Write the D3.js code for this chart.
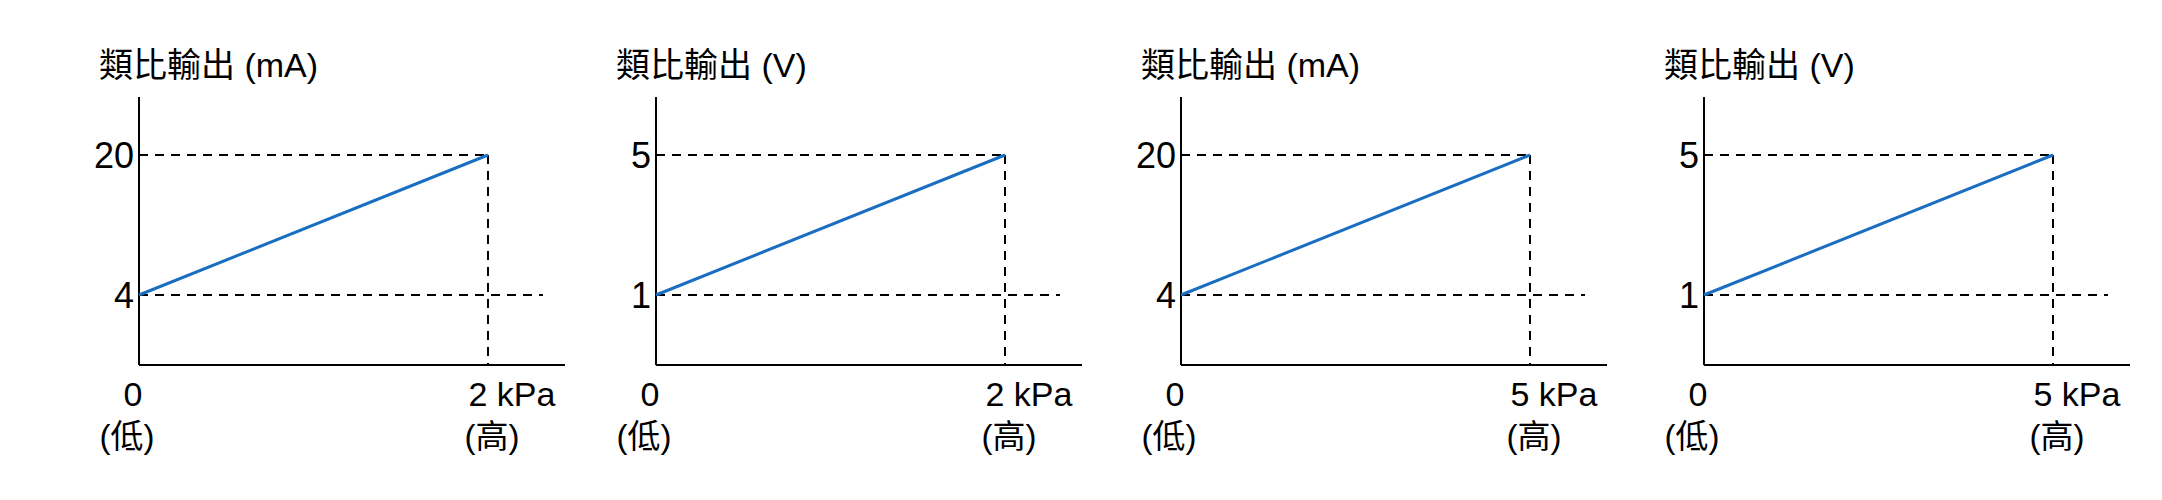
<!DOCTYPE html><html><head><meta charset="utf-8"><script src="https://d3js.org/d3.v7.min.js"></script>
<style>body{margin:0;background:#fff}</style></head><body><svg id="c" width="2162" height="500"></svg>
<script>
const titles=["類比輸出 (mA)","類比輸出 (V)","類比輸出 (mA)","類比輸出 (V)"];
const yLow=[4,1,4,1];
const yHigh=[20,5,20,5];
const xHighLabels=["2 kPa","2 kPa","5 kPa","5 kPa"];
const xLowLabel="0", lowWord="(低)", highWord="(高)";
const axisX=[139,656,1181,1704];
const svg=d3.select("#c");
const font="Arial, 'Liberation Sans', 'Noto Sans CJK TC', sans-serif";
titles.forEach((t,i)=>{
  const g=svg.append("g").attr("transform",`translate(${axisX[i]},0)`);
  const x=d3.scaleLinear().domain([0,1]).range([0,349]);
  const y=d3.scaleLinear().domain([yLow[i],yHigh[i]]).range([295,155]);
  const blue="#1a6ec2";
  g.append("text").attr("x",-40).attr("y",77).attr("font-family",font).attr("font-size",34).text(t);
  g.append("line").attr("x1",0).attr("x2",0).attr("y1",97).attr("y2",365).attr("stroke","#000").attr("stroke-width",2);
  g.append("line").attr("x1",0).attr("x2",426).attr("y1",365).attr("y2",365).attr("stroke","#000").attr("stroke-width",2);
  const dash={"stroke":"#000","stroke-width":2,"stroke-dasharray":"9,7"};
  const dl=(x1,y1,x2,y2)=>{const l=g.append("line").attr("x1",x1).attr("y1",y1).attr("x2",x2).attr("y2",y2);Object.entries(dash).forEach(([k,v])=>l.attr(k,v));};
  dl(0,y(yHigh[i]),x(1),y(yHigh[i]));
  dl(0,y(yLow[i]),x(1)+55,y(yLow[i]));
  dl(x(1),y(yHigh[i]),x(1),365);
  g.append("line").attr("x1",x(0)).attr("y1",y(yLow[i])).attr("x2",x(1)).attr("y2",y(yHigh[i])).attr("stroke",blue).attr("stroke-width",3);
  [yLow[i],yHigh[i]].forEach(v=>g.append("text").attr("x",-5).attr("y",y(v)+13).attr("text-anchor","end").attr("font-family",font).attr("font-size",36).text(v));
  g.append("text").attr("x",-6).attr("y",406).attr("text-anchor","middle").attr("font-family",font).attr("font-size",34).text(xLowLabel);
  g.append("text").attr("x",-12).attr("y",448).attr("text-anchor","middle").attr("font-family",font).attr("font-size",33).text(lowWord);
  g.append("text").attr("x",x(1)+24).attr("y",406).attr("text-anchor","middle").attr("font-family",font).attr("font-size",34).text(xHighLabels[i]);
  g.append("text").attr("x",x(1)+4).attr("y",448).attr("text-anchor","middle").attr("font-family",font).attr("font-size",33).text(highWord);
});
</script></body></html>
